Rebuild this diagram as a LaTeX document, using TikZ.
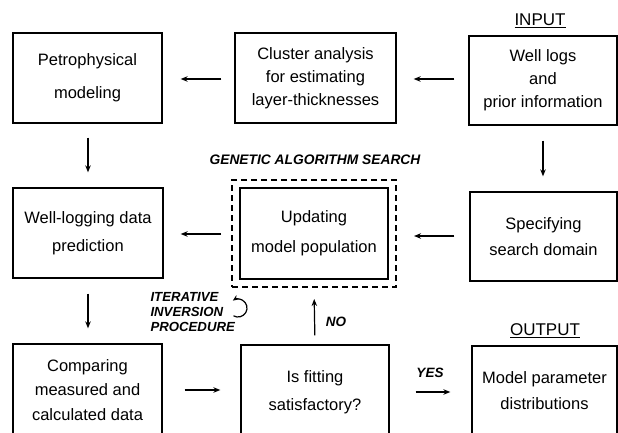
\documentclass[tikz,border=0pt]{standalone}
\usepackage{fontspec}
\setmainfont{Liberation Sans}
\usetikzlibrary{arrows.meta}
\begin{document}
\begin{tikzpicture}[x=1pt,y=-1pt,
 box/.style={draw, line width=1.3pt, inner sep=0pt, align=center},
 fs/.style={font=\fontsize{16.5}{#1}\selectfont},
 arr/.style={-{Stealth[length=7pt,width=5.5pt]}, line width=1.2pt},
 lab/.style={font=\fontsize{13.5}{15}\selectfont\bfseries\itshape},
 head/.style={font=\fontsize{17}{20}\selectfont}]
\useasboundingbox (0,0) rectangle (618,432);
\clip (0,0) rectangle (618,432);
% row 1
\node[box, fs=33, minimum width=149pt, minimum height=90pt] (petro) at (87.5,78) {Petrophysical\\modeling};
\node[box, fs=23, minimum width=161pt, minimum height=90pt] (cluster) at (315.5,78) {Cluster analysis\\for estimating\\layer-thicknesses};
\node[box, fs=23, minimum width=148pt, minimum height=89pt] (input) at (543,80.5) {Well logs\\and\\prior information};
\node[head] (inlab) at (540,21) {\underline{INPUT}};
% row 2
\node[box, fs=28, minimum width=150pt, minimum height=90pt] (wl) at (88,233) {Well-logging data\\prediction};
\node[draw, line width=2pt, dash pattern=on 6pt off 4pt, minimum width=164pt, minimum height=107pt, inner sep=0pt] (dash) at (314,233.5) {};
\node[box, fs=30, minimum width=148pt, minimum height=91pt] (upd) at (314,233.5) {Updating\\model population};
\node[box, fs=26, minimum width=147pt, minimum height=89pt] (spec) at (543.5,236.5) {Specifying\\search domain};
\node[lab, font=\fontsize{13.8}{15}\selectfont\bfseries\itshape] (ga) at (315,160) {GENETIC ALGORITHM SEARCH};
% row 3
\node[box, fs=24.5, minimum width=149pt, minimum height=92pt] (comp) at (87.5,390) {Comparing\\measured and\\calculated data};
\node[box, fs=28, minimum width=148pt, minimum height=94pt] (fit) at (315,392) {Is fitting\\satisfactory?};
\node[box, fs=26, minimum width=145pt, minimum height=90pt] (out) at (544.5,391) {Model parameter\\distributions};
\node[head] (outlab) at (545,331) {\underline{OUTPUT}};
% labels
\node[lab, align=left, anchor=west, font=\fontsize{13.2}{15}\selectfont\bfseries\itshape] (iter) at (147,312) {ITERATIVE\\INVERSION\\PROCEDURE};
\node[lab] (no) at (336,322) {NO};
\node[lab] (yes) at (430,373) {YES};
% arrows
\draw[arr, shorten <=14pt, shorten >=17pt] (input.west |- 0,79) -- (cluster.east |- 0,79);
\draw[arr, shorten <=13pt, shorten >=18pt] (cluster.west |- 0,79) -- (petro.east |- 0,79);
\draw[arr, shorten <=15pt, shorten >=15pt] (input.south -| 543,0) -- (spec.north -| 543,0);
\draw[arr, shorten <=14pt, shorten >=15pt] (petro.south -| 88,0) -- (wl.north -| 88,0);
\draw[arr, shorten <=15pt, shorten >=17pt] (spec.west |- 0,236) -- (dash.east |- 0,236);
\draw[arr, shorten <=10pt, shorten >=17pt] (dash.west |- 0,234) -- (wl.east |- 0,234);
\draw[arr, shorten <=15pt, shorten >=15pt] (wl.south -| 88,0) -- (comp.north -| 88,0);
\draw[arr, shorten <=22pt, shorten >=20pt] (comp.east |- 0,390) -- (fit.west |- 0,390);
\draw[arr, shorten <=9pt, shorten >=11pt] (fit.north) -- (dash.south);
\draw[arr, shorten <=26pt, shorten >=21pt] (fit.east |- 0,392) -- (out.west |- 0,392);
% circular arrow
\coordinate (cc) at (238,308);
\draw[-{Stealth[length=6pt,width=5pt]}, line width=1.2pt] ([shift={(120:9)}]cc) arc[start angle=120, end angle=-125, radius=9];
\end{tikzpicture}
\end{document}
